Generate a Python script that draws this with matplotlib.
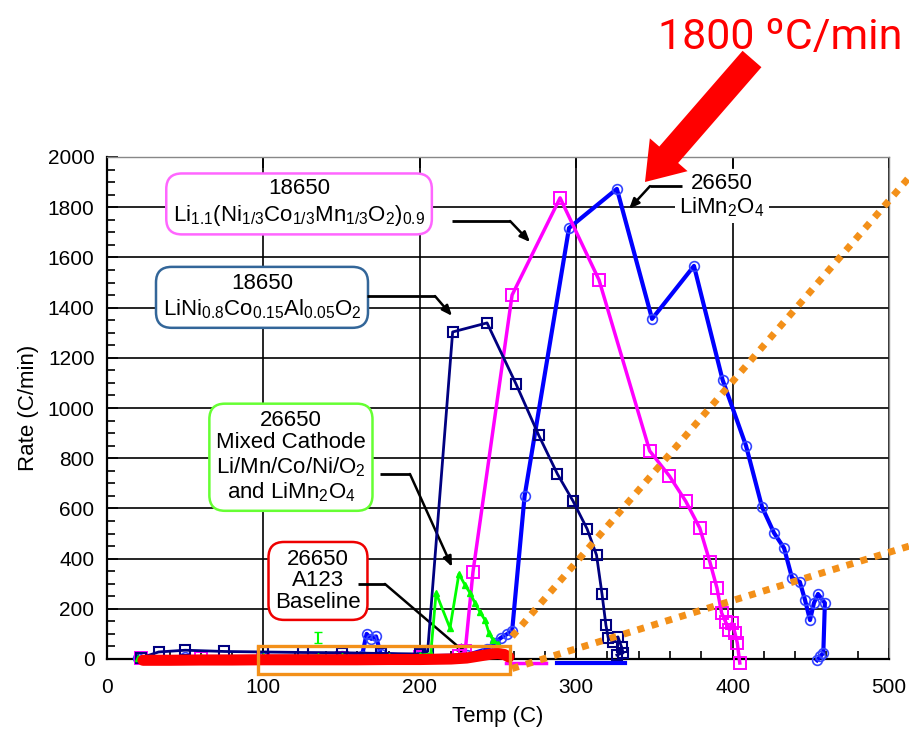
import matplotlib
matplotlib.use("Agg")
import matplotlib.pyplot as plt
from matplotlib.patches import Rectangle

plt.rcParams['font.family'] = ['Liberation Sans', 'DejaVu Sans']
plt.rcParams['mathtext.fontset'] = 'custom'
plt.rcParams['mathtext.rm'] = 'Liberation Sans'
plt.rcParams['mathtext.it'] = 'Liberation Sans:italic'
plt.rcParams['mathtext.bf'] = 'Liberation Sans:bold'

# ---------------- data ----------------
nca_T = [22, 33, 50, 75, 100, 125, 150, 175, 200, 205, 221, 243, 261.5, 276, 288, 298, 307, 313,
         316.5, 319, 320.5, 323.6, 326.7, 329, 330, 326]
nca_R = [5, 28, 35, 30, 28, 26, 25, 22, 20, 30, 1303, 1339, 1096, 892, 737, 629, 518, 414,
         259, 135, 84, 68, 88, 48, 24, 16]

nmc_T = [22, 60, 100, 150, 200, 225, 229, 234, 259, 289.7, 314.6, 347, 359.6, 370, 379, 385.5,
         390, 393, 395.6, 398, 399.6, 401.5, 403, 404.6]
nmc_R = [5, 5, 5, 5, 8, 10, 30, 347, 1450, 1837, 1510, 829, 729, 629, 522, 386,
         283, 183, 147, 116, 143, 104, 64, -16]
nmc_tail_T = [255, 281]
nmc_tail_R = [-15, -15]

lmo_T = [20, 50, 100, 150, 163, 166, 169, 172, 175, 200, 230, 243, 248, 252, 256, 259, 267,
         295.4, 326, 348.5, 375.3, 393.6, 408.6, 418.8, 426.5, 432.9, 438, 443, 446.3, 449.5,
         452, 454.6, 459, 458, 456, 454]
lmo_R = [5, 8, 8, 10, 12, 100, 80, 90, 20, 10, 15, 40, 65, 85, 100, 110, 649,
         1717, 1873, 1355, 1566, 1112, 849, 606, 502, 442, 323, 307, 235, 155,
         223, 259, 223, 24, 10, -5]
lmo_tail_T = [288, 331]
lmo_tail_R = [-15, -15]

mix_T = [20, 60, 100, 135, 150, 180, 200, 207, 210.4, 219.3, 225, 228.9, 232.1, 235.3, 238.5,
         241.7, 244.2, 246.8, 250]
mix_R = [5, 8, 10, 12, 10, 12, 15, 20, 263, 123, 339, 295, 263, 223, 187,
         155, 104, 76, 60]
mix_err_T = [135]
mix_err_R = [86]
mix_err = [22]

a123_T = [23, 40, 60, 80, 100, 120, 140, 160, 180, 200, 210, 220, 230, 238, 246, 250, 254, 257]
a123_R = [-5, -5, -4, -4, -3, -3, -3, -3, -2, -2, -1, 0, 4, 12, 20, 22, 18, 8]

guide1_T = [259, 513]
guide1_R = [90, 1920]
guide2_T = [259, 513]
guide2_R = [-38, 450]

box_T = [96.7, 257.7]
box_R = [-60, 53]

x_ticks = [0, 100, 200, 300, 400, 500]
y_ticks = [0, 200, 400, 600, 800, 1000, 1200, 1400, 1600, 1800, 2000]

# ---------------- figure ----------------
W, H = 909, 740
fig = plt.figure(figsize=(W / 100, H / 100), dpi=100)
ax = fig.add_axes([107 / W, 1 - 659 / H, (889 - 107) / W, (659 - 157) / H])

ax.set_xlim(0, 500)
ax.set_ylim(0, 2000)
ax.set_xticks(x_ticks)
ax.set_yticks(y_ticks)
ax.set_xticks(range(0, 501, 20), minor=True)
ax.set_yticks(range(0, 2001, 50), minor=True)
ax.grid(True, which='major', color='black', lw=1.2, zorder=0)
ax.set_axisbelow(True)
ax.tick_params(axis='both', which='both', direction='in', labelsize=15)
ax.tick_params(axis='y', which='major', length=8, width=1.2, pad=9, right=False)
ax.tick_params(axis='y', which='minor', length=6, width=1.2, right=False)
ax.tick_params(axis='x', which='major', length=8, width=1.2, pad=14, top=True)
ax.tick_params(axis='x', which='minor', length=6, width=1.2, top=False)
for s in ['left', 'bottom']:
    ax.spines[s].set_linewidth(1.6)
    ax.spines[s].set_color('black')
for s in ['top', 'right']:
    ax.spines[s].set_linewidth(1.0)
    ax.spines[s].set_color('#888888')

ax.set_xlabel('Temp (C)', fontsize=16, labelpad=6)
ax.set_ylabel('Rate (C/min)', fontsize=16, labelpad=6)

# ---------------- series ----------------
ax.plot(lmo_T, lmo_R, color='#0000FF', lw=3, marker='o', ms=7, mfc='none', mec='#3344FF',
        mew=1.2, clip_on=False, zorder=4)
ax.plot(lmo_tail_T, lmo_tail_R, color='#0000FF', lw=3, clip_on=False, zorder=4)
ax.plot(nmc_T, nmc_R, color='#FF00FF', lw=2.5, marker='s', ms=8, mfc='none', mec='#FF00FF',
        mew=1.4, clip_on=False, zorder=5)
ax.plot(nmc_tail_T, nmc_tail_R, color='#FF00FF', lw=2.5, clip_on=False, zorder=5)
ax.plot(nca_T, nca_R, color='#000080', lw=2, marker='s', ms=7, mfc='none', mec='#000080',
        mew=1.5, clip_on=False, zorder=5)
ax.plot(mix_T, mix_R, color='#00FF00', lw=2, marker='^', ms=5, mfc='#00FF00', mec='#00FF00',
        clip_on=False, zorder=5)
ax.errorbar(mix_err_T, mix_err_R, yerr=mix_err, fmt='none', ecolor='#00FF00', capsize=3,
            elinewidth=1.5, zorder=5)
ax.plot(a123_T, a123_R, color='#FF0000', lw=8, clip_on=False, zorder=6,
        solid_capstyle='round', solid_joinstyle='round')

# ---------------- orange guides ----------------
orange = '#F39019'
ax.plot(guide1_T, guide1_R, color=orange, lw=5, ls=(0, (1, 1.1)), dash_capstyle='butt',
        clip_on=False, zorder=7)
ax.plot(guide2_T, guide2_R, color=orange, lw=5, ls=(0, (1, 1.1)), dash_capstyle='butt',
        clip_on=False, zorder=7)
ax.add_patch(Rectangle((box_T[0], box_R[0]), box_T[1] - box_T[0], box_R[1] - box_R[0],
                       fill=False, ec=orange, lw=2.4, clip_on=False, zorder=7))

# ---------------- annotation boxes ----------------
def label(x, y, txt, ec, ls=1.2, pad=0.3):
    bb = dict(boxstyle=f'round,pad={pad},rounding_size=0.7', fc='white', ec=ec, lw=1.8)
    if ec is None:
        bb = dict(boxstyle=f'square,pad={pad}', fc='white', ec='none')
    ax.text(x, y, txt, ha='center', va='center', fontsize=16, multialignment='center',
            linespacing=ls, bbox=bb, zorder=3)

def leader(x0, y0, xb, yb, x1, y1):
    ax.plot([x0, xb], [y0, yb], color='black', lw=2, zorder=3.5, solid_capstyle='butt')
    ax.annotate('', xy=(x1, y1), xytext=(xb, yb),
                arrowprops=dict(arrowstyle='-|>,head_length=0.6,head_width=0.25', color='black',
                                lw=1.8, shrinkA=0, shrinkB=0), zorder=3.5)

label(122.8, 1817, '18650\n' + r'Li$_{\mathregular{1.1}}$(Ni$_{\mathregular{1/3}}$Co$_{\mathregular{1/3}}$Mn$_{\mathregular{1/3}}$O$_{\mathregular{2}}$)$_{\mathregular{0.9}}$', '#FF66FF')
leader(220.6, 1745, 257.7, 1745, 270.5, 1661)

label(99.1, 1442, '18650\n' + r'LiNi$_{\mathregular{0.8}}$Co$_{\mathregular{0.15}}$Al$_{\mathregular{0.05}}$O$_{\mathregular{2}}$', '#336699')
leader(166, 1446, 209.7, 1446, 220.6, 1367)

label(117.6, 805, '26650\nMixed Cathode\n' + r'Li/Mn/Co/Ni/O$_{\mathregular{2}}$' + '\n' + r'and LiMn$_{\mathregular{2}}$O$_{\mathregular{4}}$', '#66FF33', ls=1.1)
leader(174.6, 737, 193.7, 737, 220.6, 367)

label(134.9, 311, '26650\nA123\nBaseline', '#EE0000', ls=1.05)
leader(160.5, 299, 177.7, 299, 230.8, 16)

label(393.2, 1845, '26650\n' + r'LiMn$_{\mathregular{2}}$O$_{\mathregular{4}}$', None, ls=1.05, pad=0.2)
leader(367.6, 1884, 347.2, 1884, 333.8, 1793)

# ---------------- red highlight ----------------
fig.text(780 / W, 1 - 37 / H, '1800 ºC/min', color='#FF0000', fontsize=31,
         family=['Roboto', 'DejaVu Sans'], ha='center', va='center')
ax.annotate('', xy=(645, H - 182), xycoords='figure pixels', xytext=(752, H - 59),
            textcoords='figure pixels', annotation_clip=False,
            arrowprops=dict(arrowstyle='simple,head_length=2.6,head_width=3.6,tail_width=1.8',
                            fc='#FF0000', ec='#FF0000', lw=0, shrinkA=0, shrinkB=0,
                            mutation_scale=10))

fig.savefig('out.png', dpi=100)
